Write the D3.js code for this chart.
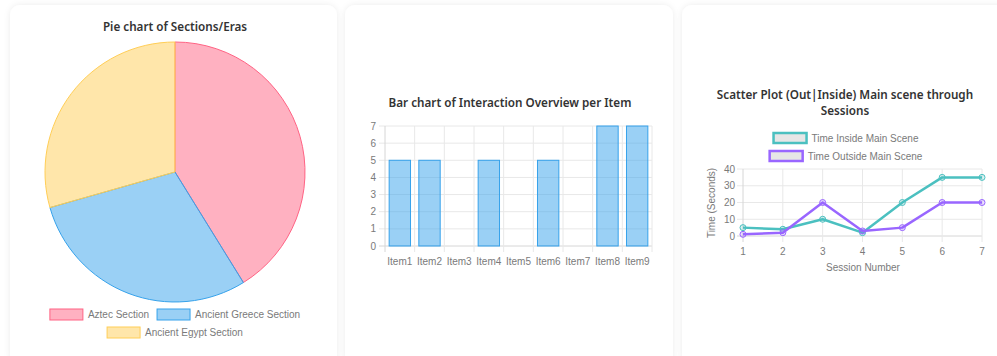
<!DOCTYPE html>
<html>
<head>
<meta charset="utf-8">
<script src="https://cdn.jsdelivr.net/npm/d3@7"></script>
<style>
  html, body { margin: 0; padding: 0; background: #ffffff; }
  svg { display: block; }
  .title { font-family: "Noto Sans", "Open Sans", sans-serif; font-weight: 600; font-size: 11.7px; fill: #333; }
  .tick-label, .legend-label, .axis-title { font-family: "Liberation Sans", Arial, sans-serif; font-size: 10px; fill: #7a7a7a; }
</style>
</head>
<body>
<div id="chart"></div>
<script>
// pie data
var sections = ["Aztec Section", "Ancient Greece Section", "Ancient Egypt Section"];
var sectionValues = [7, 5, 5];
var sectionFill = ["rgba(255,99,132,0.5)", "rgba(54,162,235,0.5)", "rgba(255,206,86,0.5)"];
var sectionStroke = ["rgb(255,99,132)", "rgb(54,162,235)", "rgb(255,206,86)"];

// bar data
var items = ["Item1", "Item2", "Item3", "Item4", "Item5", "Item6", "Item7", "Item8", "Item9"];
var interactions = [5, 5, 0, 5, 0, 5, 0, 7, 7];
var barTicks = [0, 1, 2, 3, 4, 5, 6, 7];

// line/scatter data
var sessions = [1, 2, 3, 4, 5, 6, 7];
var timeInside = [5, 4, 10, 2, 20, 35, 35];
var timeOutside = [1, 2, 20, 3, 5, 20, 20];
var timeTicks = [0, 10, 20, 30, 40];

var W = 997, H = 356;
var svg = d3.select("#chart").append("svg").attr("width", W).attr("height", H);

var defs = svg.append("defs");
var f = defs.append("filter").attr("id", "shadow")
    .attr("x", "-10%").attr("y", "-10%").attr("width", "120%").attr("height", "120%");
f.append("feDropShadow").attr("dx", 0).attr("dy", 0).attr("stdDeviation", 3)
    .attr("flood-color", "#000").attr("flood-opacity", 0.08);

// cards
var cards = [[10, 5, 327], [345, 5, 328], [682, 5, 330]];
svg.selectAll("rect.card").data(cards).enter().append("rect")
    .attr("class", "card")
    .attr("x", function (d) { return d[0]; })
    .attr("y", function (d) { return d[1]; })
    .attr("width", function (d) { return d[2]; })
    .attr("height", 360)
    .attr("rx", 10)
    .attr("fill", "#fff")
    .attr("filter", "url(#shadow)");

var gridColor = "#e8e8e8";
var axisColor = "#d6d6d6";

// ---------- pie ----------
var pieG = svg.append("g");
pieG.append("text").attr("class", "title")
    .attr("x", 175).attr("y", 31).attr("text-anchor", "middle")
    .text("Pie chart of Sections/Eras");

var pie = d3.pie().sort(null).value(function (d) { return d; });
var arc = d3.arc().innerRadius(0).outerRadius(130);
pieG.append("g").attr("transform", "translate(175,172)")
    .selectAll("path").data(pie(sectionValues)).enter().append("path")
    .attr("d", arc)
    .attr("fill", function (d, i) { return sectionFill[i]; })
    .attr("stroke", function (d, i) { return sectionStroke[i]; })
    .attr("stroke-width", 1);

// legend rows, centred like chart.js
function legendRow(g, names, idx, cy, cx) {
    var row = g.append("g");
    var x = 0;
    idx.forEach(function (i) {
        row.append("rect").attr("x", x).attr("y", cy - 5.5).attr("width", 33).attr("height", 11)
            .attr("fill", sectionFill[i]).attr("stroke", sectionStroke[i]).attr("stroke-width", 1);
        var t = row.append("text").attr("class", "legend-label")
            .attr("x", x + 38).attr("y", cy + 3.5).text(names[i]);
        x += 38 + t.node().getComputedTextLength() + 8;
    });
    x -= 8;
    row.attr("transform", "translate(" + (cx - x / 2) + ",0)");
}
legendRow(pieG, sections, [0, 1], 314.5, 175);
legendRow(pieG, sections, [2], 332.5, 175);

// ---------- bar ----------
var barG = svg.append("g");
barG.append("text").attr("class", "title")
    .attr("x", 510).attr("y", 107).attr("text-anchor", "middle")
    .text("Bar chart of Interaction Overview per Item");

var bx = d3.scaleBand().domain(items).range([385, 652]);
var by = d3.scaleLinear().domain([0, 7]).range([246, 126]);

// horizontal grid
barG.selectAll("line.hg").data(barTicks).enter().append("line")
    .attr("x1", 379).attr("x2", 652)
    .attr("y1", function (d) { return by(d); }).attr("y2", function (d) { return by(d); })
    .attr("stroke", function (d) { return d === 0 ? axisColor : gridColor; });
// vertical grid at band edges
var edges = items.map(function (d) { return bx(d); }).concat([652]);
barG.selectAll("line.vg").data(edges).enter().append("line")
    .attr("x1", function (d) { return d; }).attr("x2", function (d) { return d; })
    .attr("y1", 126).attr("y2", 252)
    .attr("stroke", function (d, i) { return i === 0 ? axisColor : gridColor; });

barG.selectAll("text.yt").data(barTicks).enter().append("text")
    .attr("class", "tick-label").attr("text-anchor", "end")
    .attr("x", 376).attr("y", function (d) { return by(d) + 3.5; })
    .text(function (d) { return d; });
barG.selectAll("text.xt").data(items).enter().append("text")
    .attr("class", "tick-label").attr("text-anchor", "middle")
    .attr("x", function (d) { return bx(d) + bx.bandwidth() / 2; }).attr("y", 265)
    .text(function (d) { return d; });

var bw = bx.bandwidth() * 0.72;
barG.selectAll("rect.bar").data(interactions).enter().append("rect")
    .attr("x", function (d, i) { return bx(items[i]) + (bx.bandwidth() - bw) / 2; })
    .attr("y", function (d) { return by(d); })
    .attr("width", bw)
    .attr("height", function (d) { return by(0) - by(d); })
    .attr("fill", "rgba(54,162,235,0.5)")
    .attr("stroke", function (d) { return d > 0 ? "rgb(54,162,235)" : "none"; })
    .attr("stroke-width", 1);

// ---------- line ----------
var lineG = svg.append("g");
lineG.append("text").attr("class", "title")
    .attr("x", 845).attr("y", 99).attr("text-anchor", "middle")
    .text("Scatter Plot (Out|Inside) Main scene through");
lineG.append("text").attr("class", "title")
    .attr("x", 845).attr("y", 115).attr("text-anchor", "middle")
    .text("Sessions");

var series = [
    { name: "Time Inside Main Scene", values: timeInside, color: "rgb(75,192,192)", fill: "rgba(75,192,192,0.2)" },
    { name: "Time Outside Main Scene", values: timeOutside, color: "rgb(153,102,255)", fill: "rgba(153,102,255,0.2)" }
];

// legend
series.forEach(function (s, k) {
    var row = lineG.append("g");
    var cy = 138 + k * 18;
    row.append("rect").attr("x", 0).attr("y", cy - 5).attr("width", 33).attr("height", 10)
        .attr("fill", "#e6e6e6").attr("stroke", s.color).attr("stroke-width", 2.5);
    var t = row.append("text").attr("class", "legend-label")
        .attr("x", 38).attr("y", cy + 3.5).text(s.name);
    var w = 38 + t.node().getComputedTextLength();
    row.attr("transform", "translate(" + (846 - w / 2) + ",0)");
});

var sx = d3.scaleLinear().domain([1, 7]).range([743, 982]);
var sy = d3.scaleLinear().domain([0, 40]).range([236, 169]);

lineG.selectAll("line.hg").data(timeTicks).enter().append("line")
    .attr("x1", 737).attr("x2", 982)
    .attr("y1", function (d) { return sy(d); }).attr("y2", function (d) { return sy(d); })
    .attr("stroke", function (d) { return d === 0 ? axisColor : gridColor; });
lineG.selectAll("line.vg").data(sessions).enter().append("line")
    .attr("x1", function (d) { return sx(d); }).attr("x2", function (d) { return sx(d); })
    .attr("y1", 169).attr("y2", 242)
    .attr("stroke", function (d, i) { return i === 0 ? axisColor : gridColor; });

lineG.selectAll("text.yt").data(timeTicks).enter().append("text")
    .attr("class", "tick-label").attr("text-anchor", "end")
    .attr("x", 735).attr("y", function (d) { return sy(d) + 3.5; })
    .text(function (d) { return d; });
lineG.selectAll("text.xt").data(sessions).enter().append("text")
    .attr("class", "tick-label").attr("text-anchor", "middle")
    .attr("x", function (d) { return sx(d); }).attr("y", 255)
    .text(function (d) { return d; });

lineG.append("text").attr("class", "axis-title").attr("text-anchor", "middle")
    .attr("x", 863).attr("y", 271).text("Session Number");
lineG.append("text").attr("class", "axis-title").attr("text-anchor", "middle")
    .attr("transform", "translate(715,203) rotate(-90)").text("Time (Seconds)");

var line = d3.line()
    .x(function (d, i) { return sx(sessions[i]); })
    .y(function (d) { return sy(d); });

series.forEach(function (s) {
    lineG.append("path").datum(s.values)
        .attr("d", line).attr("fill", "none")
        .attr("stroke", s.color).attr("stroke-width", 2.5)
        .attr("stroke-linejoin", "round");
    lineG.selectAll(null).data(s.values).enter().append("circle")
        .attr("cx", function (d, i) { return sx(sessions[i]); })
        .attr("cy", function (d) { return sy(d); })
        .attr("r", 3)
        .attr("fill", s.fill).attr("stroke", s.color).attr("stroke-width", 1);
});
</script>
</body>
</html>
